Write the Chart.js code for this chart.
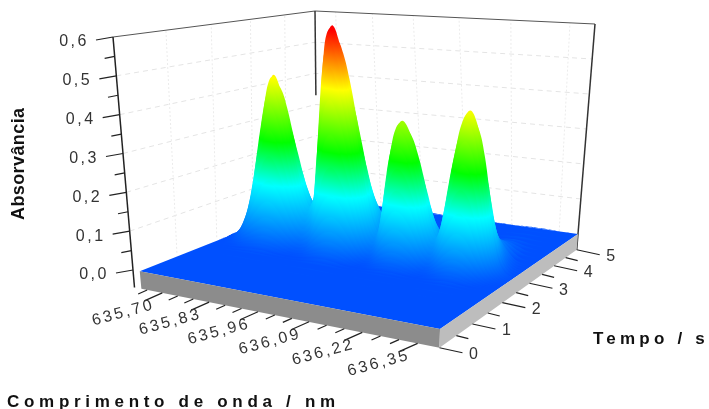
<!DOCTYPE html>
<html>
<head>
<meta charset="utf-8">
<style>
  body { margin: 0; background: #fff; }
  canvas { display: block; filter: blur(0.4px); }
</style>
<script src="https://cdn.jsdelivr.net/npm/chart.js@4/dist/chart.umd.js"></script>
</head>
<body>
<canvas id="grafico" width="709" height="409"></canvas>
<script>
// Values
const comprimentos = [635.64, 635.6525, 635.665, 635.6775, 635.69, 635.7025, 635.715, 635.7275, 635.74, 635.7525,
  635.765, 635.7775, 635.79, 635.8025, 635.815, 635.8275, 635.84, 635.8525, 635.865, 635.8775,
  635.89, 635.9025, 635.915, 635.9275, 635.94, 635.9525, 635.965, 635.9775, 635.99, 636.0025,
  636.015, 636.0275, 636.04, 636.0525, 636.065, 636.0775, 636.09, 636.1025, 636.115, 636.1275,
  636.14, 636.1525, 636.165, 636.1775, 636.19, 636.2025, 636.215, 636.2275, 636.24, 636.2525,
  636.265, 636.2775, 636.29, 636.3025, 636.315, 636.3275, 636.34, 636.3525, 636.365, 636.3775, 636.39, 636.40];
const espectroMaximo = [0.003, 0.008, 0.018, 0.035, 0.065, 0.105, 0.16, 0.225, 0.29, 0.35,
  0.405, 0.447, 0.465, 0.447, 0.398, 0.329, 0.251, 0.18, 0.13, 0.11,
  0.13, 0.165, 0.26, 0.36, 0.46, 0.545, 0.6, 0.615, 0.58, 0.505,
  0.395, 0.27, 0.16, 0.09, 0.07, 0.1, 0.17, 0.248, 0.312, 0.358,
  0.375, 0.358, 0.312, 0.248, 0.17, 0.105, 0.08, 0.105, 0.165, 0.25,
  0.33, 0.395, 0.42, 0.395, 0.33, 0.24, 0.155, 0.085, 0.04, 0.018, 0.008, 0.004];
const tempos = [0, 0.5, 1, 1.25, 1.5, 1.6, 1.7, 1.75, 1.8, 1.85, 1.9, 1.95, 2, 2.05, 2.1, 2.15, 2.2, 2.25, 2.3,
  2.4, 2.5, 2.6, 2.7, 2.8, 2.9, 3, 3.2, 3.4, 3.6, 3.8, 4, 4.25, 4.5, 4.75, 5];
const perfilTempo = [0, 0, 0.003, 0.006, 0.012, 0.02, 0.035, 0.05, 0.08, 0.12, 0.18, 0.27, 0.39, 0.53, 0.68, 0.82, 0.93, 0.99, 1,
  0.93, 0.75, 0.57, 0.43, 0.33, 0.26, 0.2, 0.13, 0.09, 0.06, 0.04, 0.027, 0.018, 0.012, 0.008, 0.005];

const ticksComprimento = [635.70, 635.83, 635.96, 636.09, 636.22, 636.35];
const rotulosComprimento = ['635,70', '635,83', '635,96', '636,09', '636,22', '636,35'];
const ticksTempo = [0, 1, 2, 3, 4, 5];
const rotulosTempo = ['0', '1', '2', '3', '4', '5'];
const ticksAbs = [0, 0.1, 0.2, 0.3, 0.4, 0.5, 0.6];
const rotulosAbs = ['0,0', '0,1', '0,2', '0,3', '0,4', '0,5', '0,6'];

const wlMin = 635.62, wlMax = 636.40, tMax = 5, absMax = 0.6, absBase = -0.045;

// Plane corners on the page: front-left, front-right, back-right, back-left
function homografia(q) {
  const [[x0, y0], [x1, y1], [x2, y2], [x3, y3]] = q;
  const sx = x0 - x1 + x2 - x3, sy = y0 - y1 + y2 - y3;
  const dx1 = x1 - x2, dx2 = x3 - x2, dy1 = y1 - y2, dy2 = y3 - y2;
  const d = dx1 * dy2 - dx2 * dy1;
  const g = (sx * dy2 - dx2 * sy) / d, h = (dx1 * sy - sx * dy1) / d;
  const a = x1 - x0 + g * x1, b = x3 - x0 + h * x3;
  const e = y1 - y0 + g * y1, f = y3 - y0 + h * y3;
  return (u, v) => {
    const w = g * u + h * v + 1;
    return [(a * u + b * v + x0) / w, (e * u + f * v + y0) / w];
  };
}
const chao = homografia([[133, 270], [440, 329], [578, 234], [317, 198]]);
const topo = homografia([[113, 37], [447, 79], [595, 24], [315, 11]]);

// 3D reading -> value on the page scales
function pt(wl, t, abs) {
  const u = (wl - wlMin) / (wlMax - wlMin), v = t / tMax, s = abs / absMax;
  const p0 = chao(u, v), p1 = topo(u, v);
  return { x: p0[0] + (p1[0] - p0[0]) * s, y: p0[1] + (p1[1] - p0[1]) * s };
}
const quebra = { x: null, y: null };

function gradienteFatia(chart, t) {
  const sx = chart.scales.x, sy = chart.scales.y;
  const pix = p => [sx.getPixelForValue(p.x), sy.getPixelForValue(p.y)];
  const esq = pix(pt(wlMin, t, 0)), dir = pix(pt(wlMax, t, 0));
  const meio = (wlMin + wlMax) / 2;
  const a = pix(pt(meio, t, 0)), b = pix(pt(meio, t, absMax));
  let nx = -(dir[1] - esq[1]), ny = dir[0] - esq[0];
  const len = Math.hypot(nx, ny);
  nx /= len; ny /= len;
  const alt = (b[0] - a[0]) * nx + (b[1] - a[1]) * ny;
  // scales have no size yet on the first pass
  if (!isFinite(alt) || !isFinite(a[0])) return '#0050ff';
  const g = chart.ctx.createLinearGradient(a[0], a[1], a[0] + nx * alt, a[1] + ny * alt);
  g.addColorStop(0, '#0050ff');
  g.addColorStop(0.27, '#00ffff');
  g.addColorStop(0.46, '#00ff00');
  g.addColorStop(0.74, '#ffff00');
  g.addColorStop(1, '#ff0000');
  return g;
}

const conjuntos = [];
function linhas(data, cor, largura, traco) {
  conjuntos.push({ type: 'line', data, borderColor: cor, borderWidth: largura, borderDash: traco || [], pointRadius: 0, fill: false, spanGaps: false });
}
function poligono(data, cor) {
  conjuntos.push({ type: 'line', data, backgroundColor: cor, borderWidth: 0, pointRadius: 0, fill: 'shape' });
}

// Walls
const gradeH = [], gradeV = [];
ticksAbs.slice(1, 6).forEach(a => {
  gradeH.push(pt(wlMin, 0, a), pt(wlMin, tMax, a), pt(wlMax, tMax, a), quebra);
});
ticksTempo.slice(1, 5).forEach(t => gradeV.push(pt(wlMin, t, 0), pt(wlMin, t, absMax), quebra));
ticksComprimento.forEach(w => gradeV.push(pt(w, tMax, 0), pt(w, tMax, absMax), quebra));
linhas(gradeH, '#e4e4e4', 1, [5, 4]);
linhas(gradeV, '#ebebeb', 1, [2, 2]);
linhas([pt(wlMin, 0, absMax), pt(wlMin, tMax, absMax), pt(wlMax, tMax, absMax)], '#555', 1);
linhas([pt(wlMin, tMax, absMax), pt(wlMin, tMax, 0.33)], '#333', 1.5);
linhas([pt(wlMax, tMax, absMax), pt(wlMax, tMax, absBase)], '#333', 1.5);
linhas([pt(wlMin, 0, absMax), pt(wlMin, 0, absBase)], '#222', 1.5);

// Slab
const wlChapa = comprimentos[0], wlFim = comprimentos[comprimentos.length - 1];
poligono([pt(wlChapa, 0, 0), pt(wlFim, 0, 0), pt(wlFim, tMax, 0), pt(wlChapa, tMax, 0)], '#0050ff');

// Surface: one curtain per time reading, painted from back to front
for (let j = tempos.length - 1; j >= 0; j--) {
  const t = tempos[j];
  const topoFatia = comprimentos.map((w, i) => pt(w, t, espectroMaximo[i] * perfilTempo[j]));
  const baseFatia = comprimentos.map(w => pt(w, t, 0)).reverse();
  conjuntos.push({
    type: 'line',
    data: topoFatia.concat(baseFatia),
    backgroundColor: c => gradienteFatia(c.chart, t),
    borderWidth: 0, pointRadius: 0, fill: 'shape', tension: 0.4
  });
}

poligono([pt(wlChapa, 0, 0), pt(wlFim, 0, 0), pt(wlFim, 0, absBase), pt(wlChapa, 0, absBase)], '#8c8c8c');
poligono([pt(wlFim, 0, 0), pt(wlFim, tMax, 0), pt(wlFim, tMax, absBase), pt(wlFim, 0, absBase)], '#bdbdbd');

conjuntos.forEach((d, i) => { d.order = conjuntos.length - i; });

// Ticks and all the text
const escreveEixos = {
  id: 'escreveEixos',
  afterDraw(chart) {
    const c = chart.ctx, sx = chart.scales.x, sy = chart.scales.y;
    const px = p => [sx.getPixelForValue(p.x), sy.getPixelForValue(p.y)];
    const risco = (p, dx, dy) => {
      const [x, y] = px(p);
      c.beginPath(); c.moveTo(x, y); c.lineTo(x + dx, y + dy); c.stroke();
    };
    c.save();
    c.strokeStyle = '#222';
    c.lineWidth = 1.2;
    ticksAbs.forEach((a, i) => {
      risco(pt(wlMin, 0, a), -17, 3);
      if (i < 6) risco(pt(wlMin, 0, a + 0.05), -10, 2);
    });
    ticksComprimento.forEach(w => {
      risco(pt(w, 0, absBase), -18, 8);
      [-0.0867, -0.0433].forEach(d => { if (w + d > wlMin) risco(pt(w + d, 0, absBase), -9, 4); });
    });
    ticksTempo.forEach((t, i) => {
      risco(pt(wlMax, t, absBase), 23, 5);
      if (i < 5) risco(pt(wlMax, t + 0.5, absBase), 12, 3);
    });

    c.fillStyle = '#333';
    c.textAlign = 'center';
    c.textBaseline = 'middle';
    c.font = '16px "Liberation Sans"';
    c.letterSpacing = '2.5px';
    ticksAbs.forEach((a, i) => {
      const [x, y] = px(pt(wlMin, 0, a));
      c.fillText(rotulosAbs[i], x - 39, y + 5);
    });
    ticksComprimento.forEach((w, i) => {
      const [x, y] = px(pt(w, 0, absBase));
      c.save();
      c.translate(x - 39, y + 20);
      c.rotate(-15 * Math.PI / 180);
      c.fillText(rotulosComprimento[i], 0, 0);
      c.restore();
    });
    c.letterSpacing = '0px';
    ticksTempo.forEach((t, i) => {
      const [x, y] = px(pt(wlMax, t, absBase));
      c.fillText(rotulosTempo[i], x + 34, y + 7);
    });

    c.fillStyle = '#111';
    c.textAlign = 'left';
    c.textBaseline = 'alphabetic';
    c.font = 'bold 17px "Liberation Sans"';
    c.letterSpacing = '4.7px';
    c.fillText('Comprimento de onda / nm', 7, 407);
    c.letterSpacing = '4.2px';
    c.fillText('Tempo / s', 593, 344);
    c.font = 'bold 18px "Liberation Sans"';
    c.letterSpacing = '0.4px';
    c.translate(24, 220);
    c.rotate(-Math.PI / 2);
    c.fillText('Absorvância', 0, 0);
    c.restore();
  }
};

new Chart(document.getElementById('grafico'), {
  type: 'line',
  data: { datasets: conjuntos },
  plugins: [escreveEixos],
  options: {
    responsive: false,
    animation: false,
    events: [],
    layout: { padding: 0 },
    parsing: { xAxisKey: 'x', yAxisKey: 'y' },
    plugins: { legend: { display: false }, tooltip: { enabled: false } },
    scales: {
      x: { type: 'linear', display: false, min: 0, max: 709 },
      y: { type: 'linear', display: false, min: 0, max: 409, reverse: true }
    }
  }
});
</script>
</body>
</html>
